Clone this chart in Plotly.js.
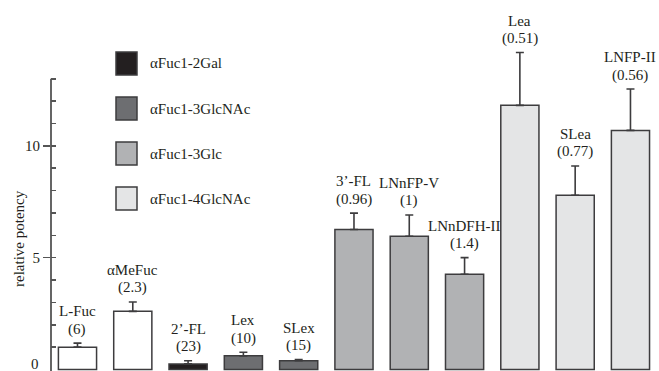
<!DOCTYPE html>
<html>
<head>
<meta charset="utf-8">
<script src="https://cdn.plot.ly/plotly-3.0.1.min.js"></script>
<style>html,body{margin:0;padding:0;background:#fff}#chart{width:659px;height:371px}</style>
</head>
<body>
<div id="chart"></div>
<script>
// ---- data ----
const categories = ['L-Fuc', 'αMeFuc', '2’-FL', 'Lex', 'SLex', '3’-FL', 'LNnFP-V', 'LNnDFH-II', 'Lea', 'SLea', 'LNFP-II'];
const ic50Labels = ['(6)', '(2.3)', '(23)', '(10)', '(15)', '(0.96)', '(1)', '(1.4)', '(0.51)', '(0.77)', '(0.56)'];
const potency = [1.0, 2.6, 0.25, 0.61, 0.39, 6.26, 5.96, 4.26, 11.81, 7.79, 10.69];
const potencyErr = [0.18, 0.42, 0.14, 0.16, 0.05, 0.73, 0.95, 0.74, 2.36, 1.31, 1.85];
const linkage = ['none', 'none', 'αFuc1-2Gal', 'αFuc1-3GlcNAc', 'αFuc1-3GlcNAc', 'αFuc1-3Glc', 'αFuc1-3Glc', 'αFuc1-3Glc', 'αFuc1-4GlcNAc', 'αFuc1-4GlcNAc', 'αFuc1-4GlcNAc'];
const legendLabels = ['αFuc1-2Gal', 'αFuc1-3GlcNAc', 'αFuc1-3Glc', 'αFuc1-4GlcNAc'];
const yTickVals = [0, 5, 10];
const yMinorTickVals = [1, 2, 3, 4, 5, 6, 7, 8, 9, 10, 11, 12, 13];

// ---- styles ----
const groupColors = {
  'none': '#ffffff',
  'αFuc1-2Gal': '#231f20',
  'αFuc1-3GlcNAc': '#6d6e71',
  'αFuc1-3Glc': '#b1b2b4',
  'αFuc1-4GlcNAc': '#e4e5e6'
};
const edge = '#3d3c3e';
const textColor = '#231f20';
const font = {family: '"Liberation Serif", "Times New Roman", serif', size: 15, color: textColor};

const W = 659, H = 371;
const M = {l: 51, r: 0, t: 34, b: 0};
const PW = W - M.l - M.r, PH = H - M.t - M.b;
const px2x = p => (p - M.l) / PW;
const py2y = p => (H - M.b - p) / PH;

const xIdx = categories.map((_, i) => i);

const trace = {
  type: 'bar',
  x: xIdx,
  y: potency,
  width: 0.69,
  marker: {color: linkage.map(g => groupColors[g]), line: {color: edge, width: 1.5}},
  error_y: {type: 'data', symmetric: false, array: potencyErr, arrayminus: potencyErr.map(() => 0),
            color: edge, thickness: 1.6, width: 4},
  showlegend: false,
  hoverinfo: 'skip'
};
const dummy = {type: 'scatter', x: [null], y: [null], yaxis: 'y2', showlegend: false, hoverinfo: 'skip'};

const annotations = [];
categories.forEach((c, i) => {
  const top = potency[i] + potencyErr[i];
  annotations.push({xref: 'x', yref: 'y', x: i, y: top, yshift: 14, text: ic50Labels[i],
    showarrow: false, font: font, xanchor: 'center', yanchor: 'middle'});
  annotations.push({xref: 'x', yref: 'y', x: i, y: top, yshift: 32, text: c,
    showarrow: false, font: font, xanchor: 'center', yanchor: 'middle'});
});
// y axis title
annotations.push({xref: 'paper', yref: 'paper', x: px2x(19), y: py2y(239), text: 'relative potency',
  textangle: -90, showarrow: false, font: font, xanchor: 'center', yanchor: 'middle'});
// the "0" tick label sits on the image edge; draw it as text, nudged up so it stays fully visible
annotations.push({xref: 'paper', yref: 'y', x: px2x(41), y: yTickVals[0], text: String(yTickVals[0]),
  showarrow: false, font: font, xanchor: 'right', yanchor: 'middle', yshift: 6});

// manual legend (large squares as in the reference)
const shapes = [];
legendLabels.forEach((lab, k) => {
  const cy = 63.5 + 45 * k;
  shapes.push({type: 'rect', xref: 'paper', yref: 'paper',
    x0: px2x(116), x1: px2x(137), y0: py2y(cy + 11.5), y1: py2y(cy - 11.5),
    fillcolor: groupColors[lab], line: {color: edge, width: 1.5}});
  annotations.push({xref: 'paper', yref: 'paper', x: px2x(148), y: py2y(cy), text: lab,
    showarrow: false, font: font, xanchor: 'left', yanchor: 'middle'});
});
// y axis line from 0 to 13
shapes.push({type: 'line', xref: 'paper', yref: 'y', x0: 0, x1: 0, y0: -0.067, y1: 13,
  line: {color: '#555555', width: 1.8}});

const yRange = [-0.067, 15];
const layout = {
  width: W, height: H,
  margin: M,
  paper_bgcolor: '#ffffff', plot_bgcolor: '#ffffff',
  font: font,
  xaxis: {range: [-0.479, 10.516], showticklabels: false, showline: false, zeroline: false,
          showgrid: false, ticks: ''},
  yaxis: {range: yRange, tickvals: yTickVals.slice(1), ticktext: yTickVals.slice(1).map(String), ticks: 'outside',
          ticklen: 7, tickwidth: 1.6, tickcolor: '#555555', showline: false, zeroline: false,
          showgrid: false, tickfont: font},
  yaxis2: {overlaying: 'y', range: yRange, tickvals: yMinorTickVals, ticks: 'inside', ticklen: 5,
           tickwidth: 1.6, tickcolor: '#555555', showticklabels: false, showline: false,
           zeroline: false, showgrid: false, side: 'left'},
  showlegend: false,
  shapes: shapes,
  annotations: annotations
};

Plotly.newPlot('chart', [trace, dummy], layout, {staticPlot: true});
</script>
</body>
</html>
